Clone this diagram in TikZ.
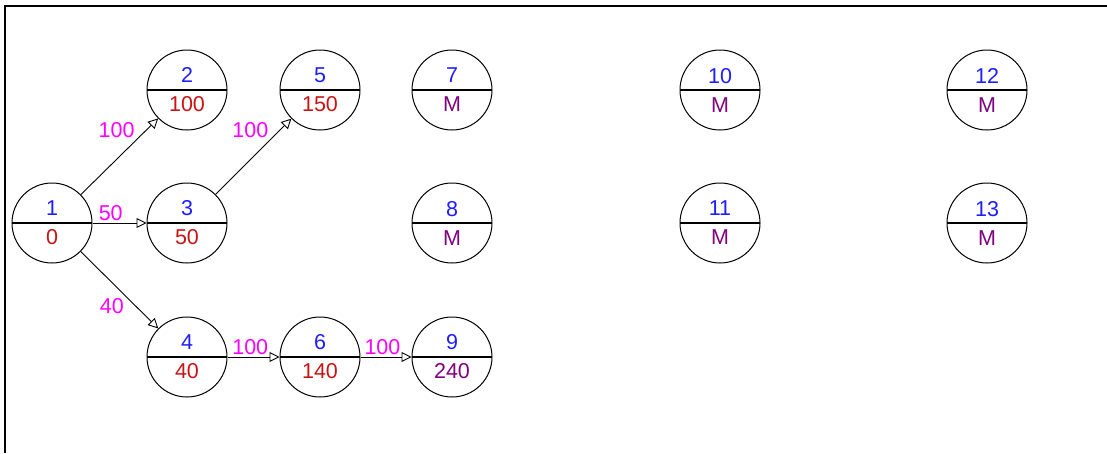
\documentclass[tikz,border=0pt]{standalone}
\usepackage{xcolor}
\usepackage{fontspec}
\setmainfont{Liberation Sans}
\usepackage{tikz}
\usetikzlibrary{arrows.meta,calc}

\definecolor{numblue}{RGB}{30,30,255}
\definecolor{valred}{RGB}{200,20,20}
\definecolor{valpurple}{RGB}{128,0,128}
\definecolor{lblmagenta}{RGB}{255,0,255}

\begin{document}
\begin{tikzpicture}[
    x=1pt, y=-1pt,
    font=\fontsize{21.5}{29}\selectfont,
    event/.style={circle, draw=black, line width=1pt, minimum size=80pt, inner sep=0pt, align=center,
        path picture={\draw[line width=2pt] (path picture bounding box.west) -- (path picture bounding box.east);}},
    arc/.style={line width=0.9pt, -{Triangle[open, length=10pt, width=10pt, line width=0.9pt]}},
    weight/.style={text=lblmagenta, inner sep=1.5pt}
]
\useasboundingbox (0,0) rectangle (1107,453);

% frame
\draw[line width=2pt] (5,453) -- (5,6) -- (1107,6);

% events
\node (n1) [event] at (52,223) {\textcolor{numblue}{1}\\\textcolor{valred}{0}};
\node (n2) [event] at (187,90) {\textcolor{numblue}{2}\\\textcolor{valred}{100}};
\node (n3) [event] at (187,223) {\textcolor{numblue}{3}\\\textcolor{valred}{50}};
\node (n4) [event] at (187,357) {\textcolor{numblue}{4}\\\textcolor{valred}{40}};
\node (n5) [event] at (320,90) {\textcolor{numblue}{5}\\\textcolor{valred}{150}};
\node (n6) [event] at (320,357) {\textcolor{numblue}{6}\\\textcolor{valred}{140}};
\node (n7) [event] at (452,90) {\textcolor{numblue}{7}\\\textcolor{valpurple}{M}};
\node (n8) [event] at (452,223) {\textcolor{numblue}{8}\\\textcolor{valpurple}{M}};
\node (n9) [event] at (452,357) {\textcolor{numblue}{9}\\\textcolor{valpurple}{240}};
\node (n10) [event] at (720,90) {\textcolor{numblue}{10}\\\textcolor{valpurple}{M}};
\node (n11) [event] at (720,223) {\textcolor{numblue}{11}\\\textcolor{valpurple}{M}};
\node (n12) [event] at (987,90) {\textcolor{numblue}{12}\\\textcolor{valpurple}{M}};
\node (n13) [event] at (987,223) {\textcolor{numblue}{13}\\\textcolor{valpurple}{M}};

% activities
\draw [arc] (n1) -- node[weight, pos=0.72, anchor=south east] {100} (n2);
\draw [arc] (n1) -- node[weight, pos=0.08, anchor=south west] {50} (n3);
\draw [arc] (n1) -- node[weight, pos=0.58, anchor=north east] {40} (n4);
\draw [arc] (n3) -- node[weight, pos=0.72, anchor=south east] {100} (n5);
\draw [arc] (n4) -- node[weight, pos=0.82, anchor=south east] {100} (n6);
\draw [arc] (n6) -- node[weight, pos=0.82, anchor=south east] {100} (n9);

\end{tikzpicture}
\end{document}
